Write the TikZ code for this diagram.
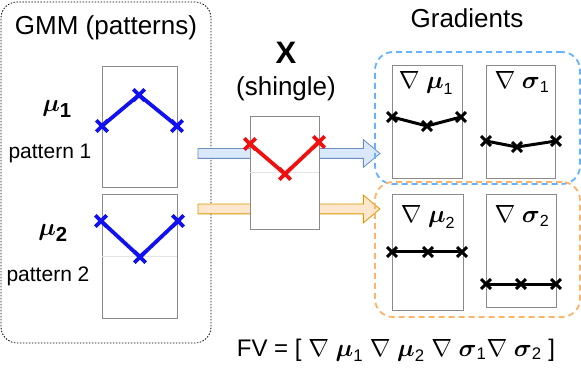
\documentclass[tikz,border=0pt]{standalone}
\usepackage{fontspec}
\setmainfont{Liberation Sans}
\usepackage{amsmath}
\usepackage{tikz}
\usetikzlibrary{shapes.arrows}
\definecolor{panelgray}{HTML}{8A8A8A}
\definecolor{faintgray}{HTML}{E4E4E4}
\definecolor{patblue}{HTML}{1010F0}
\definecolor{patred}{HTML}{F01010}
\definecolor{arrowbluefill}{HTML}{DAE8FC}
\definecolor{arrowblueline}{HTML}{6C8EBF}
\definecolor{arroworangefill}{HTML}{FFE6CC}
\definecolor{arroworangeline}{HTML}{D79B00}
\definecolor{groupblue}{HTML}{66B2FF}
\definecolor{grouporange}{HTML}{FFB366}
\tikzset{
  panel/.style={
    rectangle, draw=panelgray, line width=0.8pt,
    fill=white, inner sep=0pt
  },
  midline/.style={draw=faintgray, line width=0.6pt},
  patline/.style={line width=3.8pt, mark=x, mark size=8pt,
    mark options={line width=3.6pt}},
  gradline/.style={black, line width=3pt, mark=x, mark size=7pt,
    mark options={line width=3pt}},
  blockarrow/.style={
    single arrow, single arrow head extend=9pt, single arrow tip angle=80,
    minimum height=182pt, inner xsep=0pt, inner ysep=4.5pt, line width=0.8pt
  },
  groupbox/.style={
    rectangle, rounded corners=18pt, dash pattern=on 6pt off 4pt,
    line width=1.8pt, inner sep=0pt
  },
  titlelbl/.style={anchor=base, font=\fontsize{26}{30}\selectfont},
  mulbl/.style={anchor=base, font=\fontsize{29}{33}\selectfont},
  patlbl/.style={anchor=base, font=\fontsize{21}{25}\selectfont},
  gradlbl/.style={anchor=base, font=\fontsize{23}{27}\selectfont},
}

\begin{document}
\begin{tikzpicture}[x=1pt, y=-1pt]
  \useasboundingbox (0,0) rectangle (581,374);

  % GMM side
  \node[rectangle, draw, line width=0.8pt, dash pattern=on 1.5pt off 1.5pt,
    rounded corners=16pt, minimum width=210pt, minimum height=341pt]
    (gmm) at (106,172.5) {};
  \node[titlelbl] (gmmtitle) at (106,35) {GMM (patterns)};

  % arrows
  \node[blockarrow, fill=arrowbluefill, draw=arrowblueline] (arrowa) at (286,153.5) {};
  \node[blockarrow, fill=arroworangefill, draw=arroworangeline] (arrowb) at (286,209) {};

  \node[panel, minimum width=75pt, minimum height=121pt] (mu1box) at (139.5,126.5) {};
  \node[panel, minimum width=75pt, minimum height=124pt] (mu2box) at (139.5,256) {};
  \draw[midline] (mu2box.west) -- (mu2box.east);
  \draw[patline, patblue] plot coordinates {(102,126) (139,95) (177,126)};
  \draw[patline, patblue] plot coordinates {(101,221) (140,257) (178,221)};

  \node[mulbl] (mu1lbl) at (57,112) {$\boldsymbol{\mu}_{\mathbf{1}}$};
  \node[patlbl] (pat1) at (50,159) {pattern 1};
  \node[mulbl] (mu2lbl) at (53,236) {$\boldsymbol{\mu}_{\mathbf{2}}$};
  \node[patlbl] (pat2) at (48,281) {pattern 2};

  % shingle
  \node[anchor=base, font=\fontsize{31}{35}\selectfont\bfseries] (xlbl) at (286,64) {X};
  \node[titlelbl] (shingle) at (286,96) {(shingle)};
  \node[panel, minimum width=69pt, minimum height=113pt] (xbox) at (284.5,172.5) {};
  \draw[midline] (xbox.west) -- (xbox.east);
  \draw[patline, patred] plot coordinates {(250,144) (285,174) (319,142)};

  % gradients
  \node[titlelbl] (gradtitle) at (467,28) {Gradients};
  \node[groupbox, draw=groupblue, minimum width=205pt, minimum height=132pt] (grada) at (477.5,118) {};
  \node[groupbox, draw=grouporange, minimum width=205pt, minimum height=135pt] (gradb) at (477.5,249.5) {};

  \node[panel, minimum width=70pt, minimum height=113pt] (gmu1) at (427,121.5) {};
  \node[panel, minimum width=69pt, minimum height=113pt] (gsig1) at (520.5,121.5) {};
  \node[panel, minimum width=71pt, minimum height=116pt] (gmu2) at (427.5,252) {};
  \node[panel, minimum width=70pt, minimum height=113pt] (gsig2) at (521,250.5) {};

  \node[gradlbl] (gmu1lbl) at (426,89) {$\nabla\ \boldsymbol{\mu}_{\mathrm{1}}$};
  \node[gradlbl] (gsig1lbl) at (522,89) {$\nabla\ \boldsymbol{\sigma}_{\mathrm{1}}$};
  \node[gradlbl] (gmu2lbl) at (428,223) {$\nabla\ \boldsymbol{\mu}_{\mathrm{2}}$};
  \node[gradlbl] (gsig2lbl) at (522,223) {$\nabla\ \boldsymbol{\sigma}_{\mathrm{2}}$};

  \draw[gradline] plot coordinates {(392,117) (427,126) (461,117)};
  \draw[gradline] plot coordinates {(486,141) (517,147) (556,141)};
  \draw[gradline] plot coordinates {(392,252) (428,252) (462,252)};
  \draw[gradline] plot coordinates {(486,284) (521,284) (556,284)};

  \node[anchor=base, font=\fontsize{24}{28}\selectfont] (fv) at (396,356)
    {FV = [ $\nabla\ \boldsymbol{\mu}_{\mathrm{1}}\ \nabla\ \boldsymbol{\mu}_{\mathrm{2}}\ \nabla\ \boldsymbol{\sigma}_{\mathrm{1}}\nabla\ \boldsymbol{\sigma}_{\mathrm{2}}$ ]};
\end{tikzpicture}
\end{document}
